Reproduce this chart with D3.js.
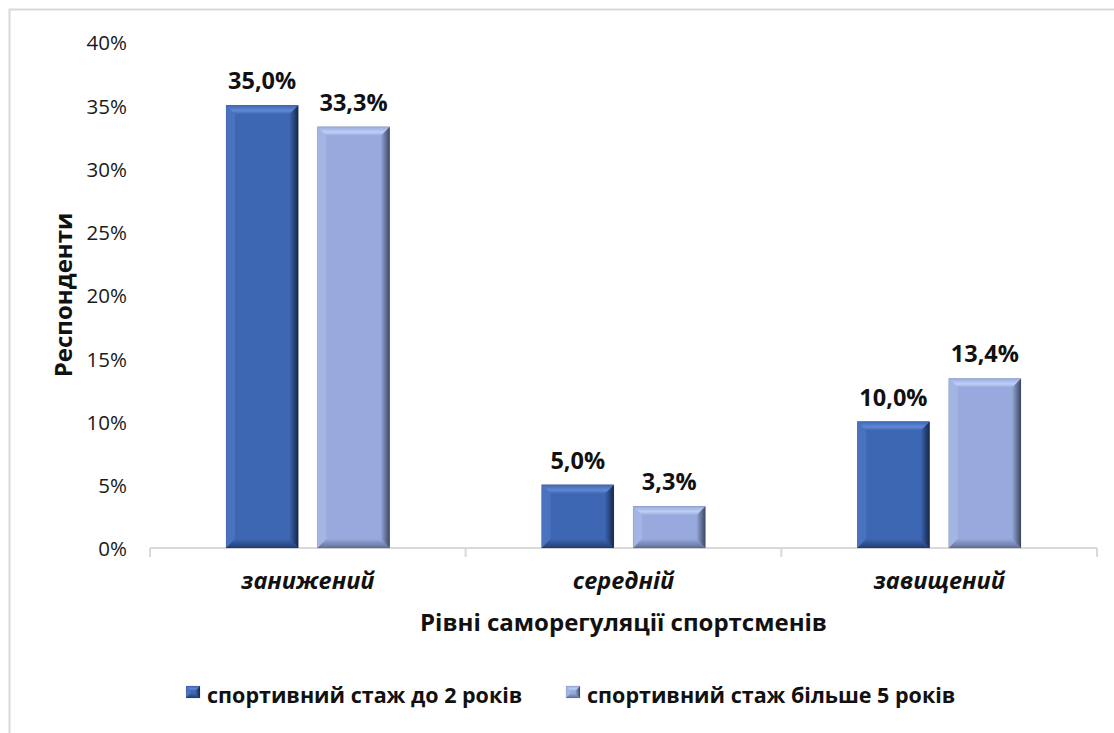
<!DOCTYPE html>
<html>
  <head>
    <meta charset="utf-8">
    <script src="https://cdn.jsdelivr.net/npm/d3@7"></script>
    <style>
      body { margin: 0; background: #fff; }
      text { font-family: "Open Sans", "Noto Sans", sans-serif; }
    </style>
  </head>
  <body>
    <svg width="1114" height="733" id="mainsvg"></svg>
    <script>
      const categories = ["занижений", "середній", "завищений"];
      const seriesNames = ["спортивний стаж до 2 років", "спортивний стаж більше 5 років"];
      const seriesShort = [35.0, 5.0, 10.0];
      const seriesLong = [33.3, 3.3, 13.4];
      const yTicks = [0, 5, 10, 15, 20, 25, 30, 35, 40];

      const svg = d3.select("#mainsvg");
      const margin = { top: 42, left: 150, right: 17, bottom: 185 };
      const width = +svg.attr("width");
      const height = +svg.attr("height");
      const innerW = width - margin.left - margin.right;
      const innerH = 548 - margin.top;

      // chart border (cropped Excel frame)
      svg.append("path")
        .attr("d", `M9.5,${height} V9.5 H${width}`)
        .attr("fill", "none").attr("stroke", "#d9d9d9").attr("stroke-width", 2);

      const defs = svg.append("defs");
      const palette = [
        { base: "#3d66b3", top: "#6088d4", left: "#4a72be", right: "#16264a", bottom: "#223c73" },
        { base: "#97a9dd", top: "#bcd0f7", left: "#a3b5e3", right: "#3c465e", bottom: "#626f96" }
      ];
      palette.forEach((p, i) => {
        const gr = defs.append("linearGradient").attr("id", "rg" + i)
          .attr("x1", 0).attr("x2", 1).attr("y1", 0).attr("y2", 0);
        gr.append("stop").attr("offset", 0).attr("stop-color", p.base);
        gr.append("stop").attr("offset", 1).attr("stop-color", p.right);
        const gt = defs.append("linearGradient").attr("id", "tg" + i)
          .attr("x1", 0).attr("x2", 0).attr("y1", 0).attr("y2", 1);
        gt.append("stop").attr("offset", 0).attr("stop-color", p.base);
        gt.append("stop").attr("offset", 0.6).attr("stop-color", p.top);
        gt.append("stop").attr("offset", 1).attr("stop-color", p.base);
        const gb = defs.append("linearGradient").attr("id", "bg" + i)
          .attr("x1", 0).attr("x2", 0).attr("y1", 0).attr("y2", 1);
        gb.append("stop").attr("offset", 0).attr("stop-color", p.base);
        gb.append("stop").attr("offset", 1).attr("stop-color", p.bottom);
      });

      const g = svg.append("g")
        .attr("transform", `translate(${margin.left}, ${margin.top})`);

      const x0 = d3.scaleBand().domain(categories).range([0, innerW]);
      const x1 = d3.scaleBand().domain([0, 1]).range([76, x0.bandwidth() - 76]).paddingInner(0.21);
      const y = d3.scaleLinear().domain([0, 40]).range([innerH, 0]);

      // y axis labels
      const yAxis = d3.axisLeft(y).tickValues(yTicks).tickSize(0).tickPadding(23)
        .tickFormat((d) => d + "%");
      const yg = g.append("g").call(yAxis);
      yg.select(".domain").remove();
      yg.selectAll("text").attr("font-size", 20.5).attr("fill", "#1a1a1a")
        .attr("dy", "0.38em")
        .style("font-family", "'Open Sans', sans-serif");

      // x axis
      const xg = g.append("g").attr("transform", `translate(0, ${innerH})`);
      xg.append("line").attr("x1", 0).attr("x2", innerW)
        .attr("stroke", "#d9d9d9").attr("stroke-width", 2);
      xg.selectAll(".xtick").data(d3.range(categories.length + 1)).join("line")
        .attr("x1", (d) => d * x0.step()).attr("x2", (d) => d * x0.step())
        .attr("y1", 0).attr("y2", 9)
        .attr("stroke", "#d9d9d9").attr("stroke-width", 2);
      xg.selectAll(".xlab").data(categories).join("text")
        .attr("x", (d) => x0(d) + x0.bandwidth() / 2)
        .attr("y", 41)
        .attr("text-anchor", "middle")
        .attr("font-size", 23.5).attr("font-weight", "bold").attr("font-style", "italic")
        .attr("fill", "#111")
        .text((d) => d);

      // bars with bevel effect
      const rows = [];
      categories.forEach((c, i) => {
        rows.push({ cat: c, s: 0, v: seriesShort[i] });
        rows.push({ cat: c, s: 1, v: seriesLong[i] });
      });

      function drawBar(sel, bx, by, bw, bh, s, bev) {
        const p = palette[s];
        const b = Math.min(bev, bh / 2.5);
        const r = bx + bw, btm = by + bh;
        sel.append("rect").attr("x", bx).attr("y", by).attr("width", bw).attr("height", bh)
          .attr("fill", p.base);
        // left
        sel.append("polygon")
          .attr("points", [[bx, by], [bx + b, by + b], [bx + b, btm - b], [bx, btm]].join(" "))
          .attr("fill", p.left);
        // bottom
        sel.append("polygon")
          .attr("points", [[bx, btm], [bx + b, btm - b], [r - b, btm - b], [r, btm]].join(" "))
          .attr("fill", `url(#bg${s})`);
        // right
        sel.append("polygon")
          .attr("points", [[r, by], [r - b, by + b], [r - b, btm - b], [r, btm]].join(" "))
          .attr("fill", `url(#rg${s})`);
        // top
        sel.append("polygon")
          .attr("points", [[bx, by], [r, by], [r - b, by + b], [bx + b, by + b]].join(" "))
          .attr("fill", `url(#tg${s})`);
        sel.append("rect").attr("x", bx).attr("y", by).attr("width", bw).attr("height", bh)
          .attr("fill", "none").attr("stroke", "rgba(0,0,0,0.15)").attr("stroke-width", 0.6);
      }

      rows.forEach((d) => {
        const bx = x0(d.cat) + x1(d.s);
        const by = y(d.v);
        const bw = x1.bandwidth();
        const bh = innerH - by;
        drawBar(g.append("g"), bx, by, bw, bh, d.s, 9);
        g.append("text")
          .attr("x", bx + bw / 2).attr("y", by - 16)
          .attr("text-anchor", "middle")
          .attr("font-size", 23.5).attr("font-weight", "bold").attr("fill", "#111")
          .text(d.v.toFixed(1).replace(".", ",") + "%");
      });

      // axis titles
      svg.append("text")
        .attr("x", margin.left + innerW / 2).attr("y", 631)
        .attr("text-anchor", "middle")
        .attr("font-size", 24).attr("font-weight", "bold").attr("fill", "#111")
        .text("Рівні саморегуляції спортсменів");
      svg.append("text")
        .attr("transform", `translate(72, 295) rotate(-90)`)
        .attr("text-anchor", "middle")
        .attr("font-size", 24).attr("font-weight", "bold").attr("fill", "#111")
        .text("Респонденти");

      // legend
      const legendX = [186, 566];
      seriesNames.forEach((name, i) => {
        const lg = svg.append("g").attr("transform", `translate(${legendX[i]}, 686)`);
        drawBar(lg, 0, 0, 14, 12, i, 5);
        lg.append("text").attr("x", 21).attr("y", 17)
          .attr("font-size", 21.5).attr("font-weight", "bold").attr("fill", "#111")
          .text(name);
      });
    </script>
  </body>
</html>
